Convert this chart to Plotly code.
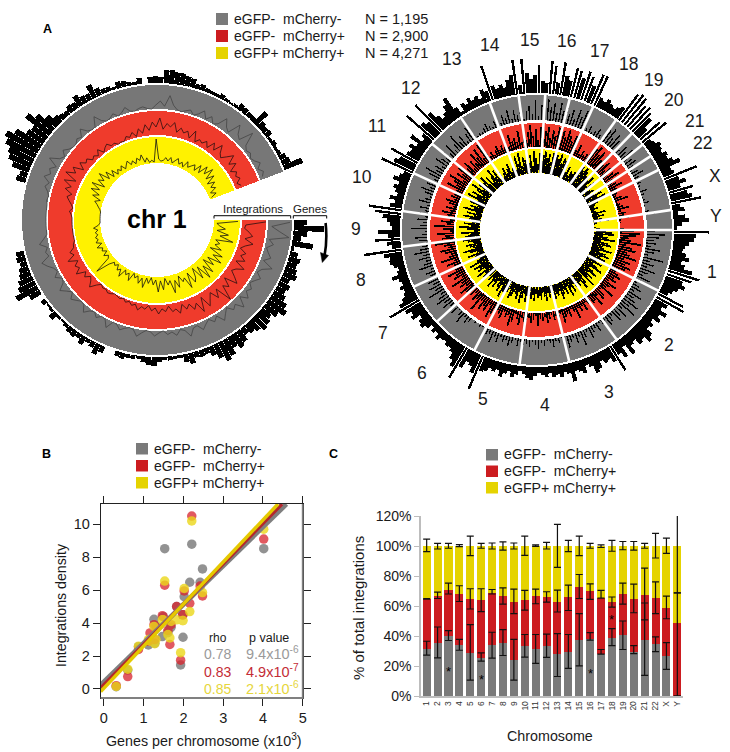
import plotly.graph_objects as go

# ---------- page geometry (the left ring's bars reach past the page edge of a square polar domain)
OFF = 20
W, H = 750, 752
FONT = "Liberation Sans"

# ---------- panel A, chromosome 1
chr1_genes = [13,30,14,8,21,3,8,12,10,12,14,9,12,10,13,18,22,16,12,15,17,13,10,8,13,16,12,18,21,15,
              10,6,7,6,11,8,3,3,4,3,5,9,8,6,3,4,4,6,5,0,0,7,11,6,4,9,5,7,6,4,
              2,3,8,3,2,5,0,12,24,18,15,12,10,7,9,8,0,0,0,0,0,0,0,0,0,0,0,0,0,10,
              8,18,24,27,33,37,30,20,18,30,22,14,8,6,5,8,7,12,8,7,14,8,5,5,3,7,6,4,3,6,
              0,6,7,6,13,14,12,12,10,9,5,6,4,3,3,5,3,2,3,7,6,5,5,16,8,6,7,3,5,3,
              4,7,9,20]
chr1_yellow = [24,3,6,12,4,16,8,22,5,10,6,14,3,18,9,20,6,15,4,19,8,21,5,17,3,12,16,4,19,7,
               10,3,14,6,18,5,9,2,13,4,15,3,8,1,7,2,12,3,9,2,5,1,10,3,6,2,11,4,7,2,
               5,3,8,22,5,3,7,2,6,4,9,3,8,5,7,4,6,3,7,2,0,0,0,0,0,0,1,3,5,8,
               3,12,6,16,8,18,5,14,9,17,6,13,4,10,3,7,4,8,3,6,9,4,7,3,8,5,10,2,6,1,
               3,1,24,4,2,3,6,3,7,2,5,8,3,6,2,9,4,7,10,5,13,6,16,9,18,7,15,5,12,6,
               10,3,8,2]
chr1_red = [24,4,3,8,12,5,14,7,3,10,6,12,4,15,8,5,11,17,4,13,8,23,6,14,5,10,16,4,18,7,
            12,5,9,3,11,6,8,2,7,4,9,3,6,1,5,3,7,2,4,1,3,0,2,1,0,2,3,1,2,0,
            4,10,5,2,7,3,12,6,9,4,13,5,8,3,2,0,0,0,0,0,0,0,0,1,3,0,2,5,8,4,
            12,7,16,5,18,9,14,4,11,6,8,3,5,2,7,1,4,6,2,3,0,1,0,4,2,6,1,8,3,11,
            5,13,8,17,6,12,9,14,5,10,6,9,3,12,2,6,4,8,3,11,5,14,7,4,9,15,6,12,3,8,
            5,8,3,6]
chr1_gray = [22,4,12,22,3,8,2,5,9,3,14,5,2,8,4,1,6,3,9,2,12,4,7,1,5,10,2,6,1,4,
             8,2,3,10,3,1,6,2,4,0,2,5,1,0,3,7,1,0,2,5,1,0,8,1,0,4,0,2,7,1,
             0,3,6,0,4,9,2,0,6,1,3,8,12,3,5,2,9,4,0,0,0,0,0,0,0,0,1,0,2,6,
             3,10,5,8,3,13,4,1,6,2,0,0,3,1,8,2,0,1,10,3,0,1,4,0,2,6,1,0,2,3,
             1,0,4,8,3,14,5,1,0,2,4,0,3,8,1,6,0,3,12,5,2,15,7,4,18,5,2,4,1,3,
             7,2,6,3]
CHR1_SPAN = 339
CHR1_STEP = 2.2

# ---------- panel A, whole genome
chrom_names = ["1","2","3","4","5","6","7","8","9","10","11","12","13","14","15","16","17","18","19","20","21","22","X","Y"]
chrom_edges = [0,26.6,54,76.2,97.4,117.5,137.5,155.3,172.9,188,204.7,219.4,235.9,249.6,262.2,273.5,284,294.5,305.7,314.5,321,327,333.7,351.5,360]
chrom_label_px = [712,669,609,545,483,422,383,361,356,362,377,410,451,490,529,566,599,628,653,674,694,702,715,716]
chrom_label_py = [272,345,392,405,399,373,333,280,229,177,126,88,59,45,40,41,51,64,80,100,121,143,176,216]
GENOME_STEP = 1.5

genome_genes = [35,22,20,16,12,10,14,18,11,15,24,33,26,18,22,16,12,9,
    28,31,14,10,18,12,16,9,13,11,18,22,15,17,10,12,20,8,
    18,12,29,16,11,13,9,15,18,10,7,14,11,9,19,
    10,8,12,9,11,7,10,8,6,9,13,11,8,5,
    9,12,7,10,14,8,11,9,13,15,36,20,14,
    12,20,35,24,18,12,9,10,7,8,11,6,9,5,
    10,14,12,8,16,13,18,34,20,15,11,9,
    12,8,10,16,9,7,11,14,13,18,38,
    9,14,25,12,22,8,10,13,18,26,33,
    12,8,14,7,10,13,9,16,11,8,
    34,22,18,30,14,12,16,10,20,8,12,
    36,20,16,37,22,14,9,12,18,24,10,
    3,10,7,12,8,10,6,14,11,
    36,14,10,13,9,16,20,35,
    9,35,20,14,18,28,12,10,
    33,28,12,33,20,16,30,
    28,22,30,26,18,32,32,
    10,8,12,9,7,10,13,
    32,35,34,28,30,26,
    22,12,26,31,
    8,10,14,12,
    10,14,12,16,22,
    10,12,35,14,20,13,25,18,22,30,8,12,
    5,12,15,8,3]
genome_yellow = [12,18,20,9,14,22,8,15,19,11,13,21,9,16,20,12,18,10,
    10,17,8,14,20,7,13,18,9,16,12,22,8,15,19,10,14,9,
    12,8,16,10,18,7,14,9,13,17,8,12,10,15,8,
    8,12,7,15,10,6,13,9,11,7,14,8,12,9,
    10,16,8,13,18,7,15,11,9,14,17,8,12,
    9,14,20,8,16,12,7,15,10,18,8,13,9,11,
    14,10,19,8,15,12,17,9,20,11,7,13,
    10,17,7,14,20,9,12,16,8,13,18,
    7,15,10,19,6,13,21,9,16,8,14,
    12,18,8,15,6,20,10,14,7,16,
    16,9,21,12,18,7,15,22,10,17,8,
    14,20,9,16,7,13,21,10,17,6,12,
    5,9,14,7,11,16,6,10,13,
    6,20,12,22,9,17,14,8,
    10,18,7,22,15,9,20,12,
    18,22,16,20,12,22,15,
    21,17,23,14,20,18,16,
    8,14,6,11,9,13,7,
    22,18,23,20,16,21,
    14,20,9,18,
    6,9,12,7,
    10,18,12,20,9,
    10,6,4,8,3,5,14,7,12,5,9,16,
    3,1,0,2,6]
genome_red = [14,20,16,9,12,22,7,14,18,10,13,21,9,16,12,18,14,8,
    6,10,14,8,12,5,15,9,7,17,4,11,13,6,16,8,10,5,
    8,4,12,6,10,5,15,7,3,11,6,9,14,4,8,
    5,9,3,7,11,4,8,6,13,3,7,10,5,8,
    10,6,14,8,4,12,17,7,10,5,13,9,6,
    8,13,18,6,14,10,15,7,20,9,12,5,10,7,
    11,16,7,13,9,19,6,14,10,17,8,12,
    7,14,5,18,9,6,12,16,8,11,20,
    6,12,9,17,4,11,20,7,13,5,10,
    8,14,6,11,4,9,13,5,10,7,
    12,7,18,9,14,20,6,15,10,17,8,
    10,16,5,13,8,18,11,19,7,21,9,
    4,8,3,7,11,5,9,6,10,
    5,16,9,12,7,18,6,11,
    8,15,22,11,18,7,20,13,
    16,21,10,18,13,22,8,
    20,14,22,17,12,19,21,
    6,13,4,9,5,8,11,
    18,22,15,20,12,21,
    10,16,7,14,
    6,12,17,8,
    5,9,14,7,10,
    5,3,8,14,2,4,6,12,3,8,5,13,
    2,1,0,0,4]
genome_gray = [8,18,12,7,10,5,15,9,4,20,7,12,6,16,9,5,14,7,
    3,7,11,5,15,8,12,18,10,19,6,14,9,13,4,8,11,3,
    5,2,9,4,7,12,3,8,15,5,10,4,7,12,3,
    1,5,3,8,4,2,6,3,9,5,2,7,4,6,
    3,8,2,6,10,4,7,3,9,5,12,4,6,
    0,1,3,0,2,0,5,8,3,12,6,2,9,4,
    5,12,8,15,10,6,17,9,13,7,11,4,
    6,10,3,14,8,5,12,7,15,9,6,
    3,8,12,5,2,16,7,4,10,3,8,
    4,9,3,12,6,2,8,14,5,10,
    8,5,12,17,7,10,4,14,9,6,11,
    6,14,4,9,18,7,12,3,10,15,5,
    1,3,2,5,8,4,2,7,10,
    3,10,6,14,4,12,7,9,
    2,9,14,6,20,4,15,8,
    21,14,18,9,20,12,16,
    10,16,7,18,12,20,8,
    3,7,2,5,9,4,2,
    14,18,9,16,11,20,
    5,12,8,15,
    4,8,11,6,
    3,7,12,5,9,
    4,2,1,7,3,1,2,6,1,0,4,9,
    0,0,0,0,0]

# ---------- panel B
genes_x = [4.02,2.21,2.48,2.16,2.42,2.02,1.53,1.26,1.31,1.69,1.47,1.99,1.12,1.28,0.87,1.93,0.60,0.31,1.61,1.83,1.98,1.66,1.49,1.16]
dens_gray = [8.52,8.79,7.29,6.48,6.48,5.60,8.52,4.23,3.83,3.75,3.18,3.14,2.67,2.77,2.57,1.46,1.15,0.14,3.42,5.00,4.50,3.70,4.39,2.87]
dens_red = [9.10,10.50,5.65,5.20,6.25,5.95,6.30,3.90,3.75,3.90,4.45,4.50,2.90,3.00,2.40,1.75,0.75,0.20,3.55,5.00,4.50,2.70,4.40,3.40]
dens_yellow = [9.70,10.20,5.85,4.70,6.00,6.10,6.55,3.80,3.00,4.10,4.20,4.15,3.00,2.75,2.60,2.20,1.20,0.15,3.30,4.20,4.15,3.10,4.20,2.90]
fit_gray_x, fit_gray_y = [-0.08,4.59], [0.24,11.23]
fit_red_x, fit_red_y = [-0.08,4.48], [0.05,11.23]
fit_yellow_x, fit_yellow_y = [-0.08,4.38], [-0.16,11.23]

# ---------- panel C
pct_ticks = [0, 20, 40, 60, 80, 100, 120]
gray_top = [31.6,35.6,40,34,29,25.5,33.8,35.4,24,33.2,31.2,33.4,27.7,29.4,37.2,38,28.3,38.9,40.5,29.4,37.6,34.5,26.5,0]
gray_low = [27.2,25.4,37,30.5,10.6,23.2,25.2,27,10.6,25.9,21.7,25.7,13,18.4,20.1,37.2,27.9,33.6,31,28.3,13.7,29.6,17.7,0]
gray_high = [36.5,46,43.6,37.8,47.6,28.8,42.5,44.2,37.8,41,41,41.2,41.6,41,54.9,42.2,31,44.9,50,33.6,62,39.4,35.6,0]
red_top = [64.8,66.6,71,68,65,63.7,69,66.6,62.6,63.7,66.6,65.7,63,65.7,73,69.7,65.3,62.6,68,64.8,67.5,65.3,59,48.7]
red_low = [64.6,65,68,63,58,56.2,68,61.3,54.9,57.3,61.5,62.6,56,57,65,64.4,65.5,59.3,61.3,55.5,50.7,54.9,51.5,0]
red_high = [65,69.2,75.2,73.5,71.5,71.5,71,72.1,71.2,70.4,71.2,69.5,70.6,73.9,81,74.8,70.4,66,75.2,74.6,85.2,76.1,66.6,68.8]
yellow_low = [96.2,98,98.5,99.6,93.6,98.5,98,97.3,98,93.8,99.8,98,85.8,96.2,93.6,98.5,99,96.5,97.5,97.3,98.5,92,95.1,68.8]
yellow_high = [104.6,101.8,101.8,100.9,106.6,101.8,102,102.7,102,106.6,100.7,102.4,114.4,103.8,106.6,101.8,100.8,103.8,103,103,101.8,108.4,105.3,130]
star_chroms = ["3","6","16","18"]
star_values = [16.3,11.2,15.2,50.8]

# ---------- colours
RING_GRAY, RING_RED, RING_YELLOW = "#777777", "#ef3b2c", "#fff200"
KEY_GRAY, KEY_RED, KEY_YELLOW = "#7a7a7a", "#cc1c20", "#e5d300"


def px(x):
    return (x + OFF) / W


def py(y):
    return 1 - y / H


fig = go.Figure()


def polar_domain(cx, cy, r):
    return dict(x=[px(cx - r), px(cx + r)], y=[py(cy + r), py(cy - r)])


def polar_layout(cx, cy, r):
    return dict(
        domain=polar_domain(cx, cy, r),
        bgcolor="rgba(0,0,0,0)",
        radialaxis=dict(range=[0, r], visible=False, showgrid=False, showticklabels=False, ticks="",
                        tickmode="array", tickvals=[], ticktext=[]),
        angularaxis=dict(visible=False, direction="clockwise", rotation=0, showgrid=False, showticklabels=False, ticks="",
                         tickmode="array", tickvals=[], ticktext=[]),
    )


# ---- chr 1 wheel
CX1, CY1, R1 = 157, 220, 177
for base, top, col in [(111, 135, RING_GRAY), (85, 109, RING_RED), (57, 83, RING_YELLOW)]:
    fig.add_trace(go.Barpolar(subplot="polar", theta=[CHR1_SPAN / 2], width=[CHR1_SPAN], base=[base], r=[top - base],
                              marker=dict(color=col, line=dict(width=0)), hoverinfo="skip", showlegend=False))
theta1 = [i * CHR1_STEP + 1 for i in range(len(chr1_genes))]
fig.add_trace(go.Barpolar(subplot="polar", theta=theta1, width=[2.1] * len(theta1), base=[137] * len(theta1), r=chr1_genes,
                          marker=dict(color="black", line=dict(width=0)), hoverinfo="skip", showlegend=False))
for vals, base, col in [(chr1_gray, 111, "#454545"), (chr1_red, 85, "#2a1010"), (chr1_yellow, 57, "#111111")]:
    fig.add_trace(go.Scatterpolar(subplot="polar", theta=[i * CHR1_STEP + 1 for i in range(len(vals))],
                                  r=[base + v for v in vals], mode="lines", line=dict(color=col, width=0.8),
                                  hoverinfo="skip", showlegend=False))

# ---- genome wheel
CX2, CY2, R2 = 537, 230, 180
centres = [(a + b) / 2 for a, b in zip(chrom_edges[:-1], chrom_edges[1:])]
widths = [b - a for a, b in zip(chrom_edges[:-1], chrom_edges[1:])]
for base, top, col in [(110, 135, RING_GRAY), (83, 107, RING_RED), (57, 81, RING_YELLOW)]:
    fig.add_trace(go.Barpolar(subplot="polar2", theta=centres, width=widths, base=[base] * 24, r=[top - base] * 24,
                              marker=dict(color=col, line=dict(width=0)), hoverinfo="skip", showlegend=False))
theta2 = [i * GENOME_STEP + GENOME_STEP / 2 for i in range(len(genome_genes))]
fig.add_trace(go.Barpolar(subplot="polar2", theta=theta2, base=[137] * len(theta2), r=genome_genes,
                          width=[1.5 if v <= 24 else 0.85 for v in genome_genes],
                          marker=dict(color="black", line=dict(width=0)), hoverinfo="skip", showlegend=False))
for vals, base, w in [(genome_gray, 110, 0.65), (genome_red, 83, 1.1), (genome_yellow, 57, 1.4)]:
    fig.add_trace(go.Barpolar(subplot="polar2", theta=theta2, base=[base] * len(vals), r=vals, width=[w] * len(vals),
                              marker=dict(color="black", line=dict(width=0)), hoverinfo="skip", showlegend=False))
sep_t, sep_r = [], []
for e in chrom_edges[:-1]:
    sep_t += [e, e, None]
    sep_r += [57, 136, None]
fig.add_trace(go.Scatterpolar(subplot="polar2", theta=sep_t, r=sep_r, mode="lines", line=dict(color="white", width=2.6),
                              hoverinfo="skip", showlegend=False))

# ---- scatter
for xs, ys, col, alpha in [(genes_x, dens_gray, "#808080", 0.85), (genes_x, dens_red, "#d8222c", 0.75), (genes_x, dens_yellow, "#ecd81a", 0.8)]:
    fig.add_trace(go.Scatter(x=xs, y=ys, xaxis="x", yaxis="y", mode="markers", opacity=alpha,
                             marker=dict(color=col, size=9.5, line=dict(width=0)), hoverinfo="skip", showlegend=False))
for xs, ys, col, w in [(fit_gray_x, fit_gray_y, "#7f7f7f", 5), (fit_red_x, fit_red_y, "#b3272d", 3.5), (fit_yellow_x, fit_yellow_y, "#e5c900", 3.5)]:
    fig.add_trace(go.Scatter(x=xs, y=ys, xaxis="x", yaxis="y", mode="lines", line=dict(color=col, width=w),
                             hoverinfo="skip", showlegend=False))

# ---- stacked bars
red_share = [r - g for r, g in zip(red_top, gray_top)]
yellow_share = [100 - r for r in red_top]
for vals, col in [(gray_top, KEY_GRAY), (red_share, KEY_RED), (yellow_share, KEY_YELLOW)]:
    fig.add_trace(go.Bar(x=chrom_names, y=vals, xaxis="x2", yaxis="y2", width=0.74, marker=dict(color=col, line=dict(width=0)),
                         hoverinfo="skip", showlegend=False))
yellow_top = [100] * len(chrom_names)
for top, low, high in [(gray_top, gray_low, gray_high), (red_top, red_low, red_high), (yellow_top, yellow_low, yellow_high)]:
    fig.add_trace(go.Scatter(x=chrom_names, y=top, xaxis="x2", yaxis="y2", mode="markers", marker=dict(size=1, opacity=0),
                             error_y=dict(type="data", symmetric=False,
                                          array=[max(h - t, 0) for h, t in zip(high, top)],
                                          arrayminus=[max(t - l, 0) for t, l in zip(top, low)],
                                          color="#111111", thickness=1.2, width=3.5),
                             hoverinfo="skip", showlegend=False, cliponaxis=True))

annotations = []


def text(s, x, y, size, color="#1a1a1a", anchor="center", bold=False, angle=0):
    annotations.append(dict(text=f"<b>{s}</b>" if bold else s, x=px(x), y=py(y), xref="paper", yref="paper", showarrow=False,
                            xanchor=anchor, yanchor="middle", textangle=angle,
                            font=dict(family=FONT, size=size, color=color), borderpad=0, borderwidth=0))


shapes = []


def key(x0, y0, size_x, size_y, col):
    shapes.append(dict(type="rect", xref="paper", yref="paper", x0=px(x0), x1=px(x0 + size_x), y0=py(y0), y1=py(y0 + size_y),
                       fillcolor=col, line=dict(width=0)))


def path(points, color="black", width=1, fill=None):
    shapes.append(dict(type="path", xref="paper", yref="paper", path=points, line=dict(color=color, width=width),
                       fillcolor=fill if fill else "rgba(0,0,0,0)"))


def P(cmd, x, y):
    return f"{cmd} {px(x):.5f},{py(y):.5f} "


LABELS = ["eGFP-\u00a0\u00a0mCherry-", "eGFP-\u00a0\u00a0mCherry+", "eGFP+ mCherry+"]
KEYS = [KEY_GRAY, KEY_RED, KEY_YELLOW]
COUNTS = ["N = 1,195", "N = 2,900", "N = 4,271"]

# legend A
for lab, c, n, ky in zip(LABELS, KEYS, COUNTS, [13, 30, 47]):
    key(216, ky, 12, 12, c)
    text(lab, 234, ky + 6, 14, anchor="left")
    text(n, 365, ky + 6, 14.5, anchor="left")
# legend B
for lab, c, ky in zip(LABELS, KEYS, [443, 460, 477]):
    key(136, ky, 12, 11.5, c)
    text(lab, 154, ky + 5.5, 14, anchor="left")
# legend C
for lab, c, ky in zip(LABELS, KEYS, [449, 465.5, 482]):
    key(486, ky, 12, 11.5, c)
    text(lab, 504, ky + 5.5, 14.2, anchor="left")

text("A", 47, 29, 12.5, color="black", bold=True)
text("B", 46, 454, 12.5, color="black", bold=True)
text("C", 333, 454, 12.5, color="black", bold=True)
text("chr 1", 157, 219, 25, color="black", bold=True)
text("Integrations", 253, 208.5, 11.5)
text("Genes", 310, 208.5, 11.5)
for name, x, y in zip(chrom_names, chrom_label_px, chrom_label_py):
    text(name, x, y, 17.5)

# brackets and direction arrow on the chr 1 wheel
path(P("M", 214, 218.5) + P("L", 214, 215.7) + P("L", 290.7, 215.7) + P("L", 290.7, 218.5))
path(P("M", 293.3, 218.5) + P("L", 293.3, 215.7) + P("L", 326.7, 215.7) + P("L", 326.7, 218.5))
path(P("M", 325.6, 223) + P("Q", 327.5, 240).strip() + f" {px(324.5):.5f},{py(256):.5f}", width=2.6)
path(P("M", 322.3, 262.5) + P("L", 320.5, 252.5) + P("L", 328.5, 255.5) + "Z", width=0.5, fill="black")

# panel B titles and table
text("Genes per chromosome (x10<sup>3</sup>)", 203, 740, 14.3)
text("Integrations density", 61, 605, 14.2, angle=-90)
text("rho", 217.7, 637.7, 12)
text("p value", 269.3, 637.7, 12.5)
for rho, p, col, y in [("0.78", "9.4x10<sup>-6</sup>", "#9a9a9a", 654), ("0.83", "4.9x10<sup>-7</sup>", "#c42c36", 672), ("0.85", "2.1x10<sup>-6</sup>", "#e6d63c", 689)]:
    text(rho, 217.7, y, 14, color=col)
    text(p, 272, y - 1, 14.5, color=col)

# heavier grey right and bottom edge of the panel B box
path(P("M", 302.7, 504) + P("L", 302.7, 698) + P("L", 100.7, 698), color="#808080", width=1.8)

# panel C titles and stars
text("% of total integrations", 358, 608, 15, angle=-90)
text("Chromosome", 550, 736, 14.3)
for c, v in zip(star_chroms, star_values):
    annotations.append(dict(text="*", x=chrom_names.index(c), y=v, xref="x2", yref="y2", showarrow=False, yanchor="middle",
                            font=dict(family=FONT, size=13, color="black")))

fig.update_layout(
    width=W, height=H, margin=dict(l=0, r=0, t=0, b=0, pad=0, autoexpand=False), paper_bgcolor="white", plot_bgcolor="white",
    autosize=False, showlegend=False, barmode="stack", bargap=0.26,
    font=dict(family=FONT, color="#1a1a1a"),
    polar=polar_layout(CX1, CY1, R1),
    polar2=polar_layout(CX2, CY2, R2),
    xaxis=dict(domain=[px(100.7), px(302.7)], range=[-0.08, 5.0], anchor="y", tickvals=[0, 1, 2, 3, 4, 5],
               showgrid=False, zeroline=False, showline=True, mirror="ticks", linecolor="#222222", linewidth=1,
               ticks="outside", ticklen=7, tickcolor="#222222", tickfont=dict(size=14.5, color="#1a1a1a")),
    yaxis=dict(domain=[py(697.7), py(504)], range=[-0.53, 11.23], anchor="x", tickvals=[0, 2, 4, 6, 8, 10],
               showgrid=False, zeroline=False, showline=True, mirror="ticks", linecolor="#222222", linewidth=1,
               ticks="outside", ticklen=7, tickcolor="#222222", tickfont=dict(size=14.5, color="#1a1a1a")),
    xaxis2=dict(domain=[px(421), px(683)], range=[-0.52, 23.52], anchor="y2", type="category", categoryorder="array",
                categoryarray=chrom_names, tickangle=-90, tickmode="array", tickvals=chrom_names, ticktext=chrom_names,
                showgrid=False, zeroline=False, showline=True, linecolor="#bdbdbd", linewidth=1.5,
                ticks="", tickfont=dict(size=8.5, color="#333333")),
    yaxis2=dict(domain=[py(696), py(516)], range=[0, 120], anchor="x2", tickmode="array", tickvals=pct_ticks,
                ticktext=[f"{t}%" for t in pct_ticks], showgrid=False, zeroline=False, showline=True,
                linecolor="#bdbdbd", linewidth=1.5,
                ticks="outside", ticklen=5, tickcolor="#bdbdbd", tickfont=dict(size=14, color="#1a1a1a")),
    annotations=annotations, shapes=shapes,
)

fig.write_html("out.html", config=dict(displayModeBar=False),
               post_script=f"document.body.style.margin='0';document.body.style.marginLeft='-{OFF}px';document.body.style.overflow='hidden';")
